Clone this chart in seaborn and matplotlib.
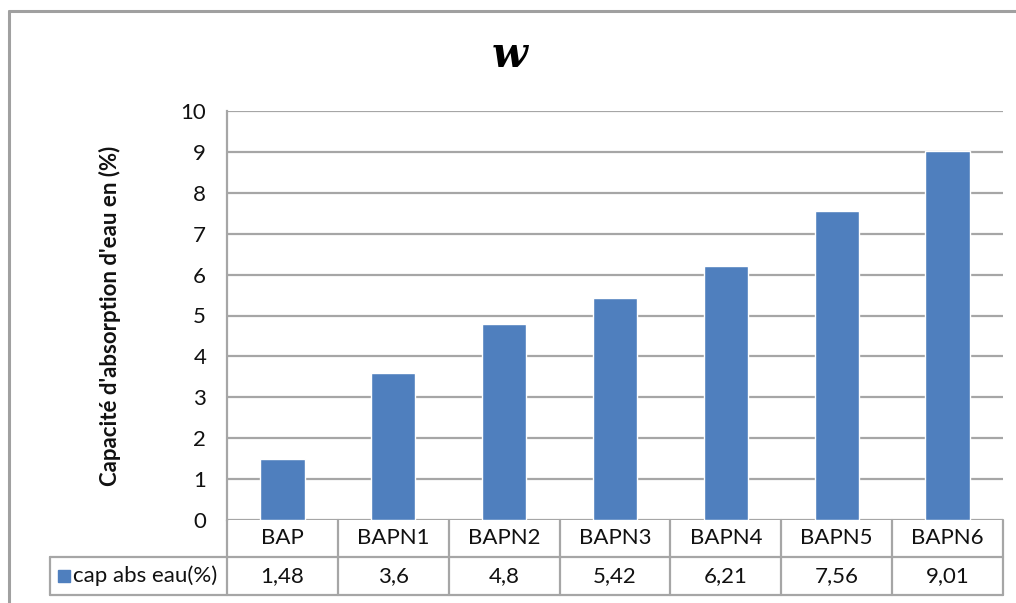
import matplotlib
matplotlib.use("Agg")
import matplotlib.pyplot as plt
import matplotlib.transforms as mtransforms
from matplotlib.lines import Line2D
from matplotlib.patches import Rectangle
import pandas as pd
import seaborn as sns

categories = ["BAP", "BAPN1", "BAPN2", "BAPN3", "BAPN4", "BAPN5", "BAPN6"]
values = [1.48, 3.6, 4.8, 5.42, 6.21, 7.56, 9.01]
value_labels = ["1,48", "3,6", "4,8", "5,42", "6,21", "7,56", "9,01"]
series_name = "cap abs eau(%)"
y_ticks = list(range(0, 11))
title = "w"
y_label = "Capacité d'absorption d'eau en (%)"

BAR_COLOR = "#4F7FBE"
GRID_COLOR = "#A6A6A6"
TEXT_COLOR = "#111111"
FS = 16

sns.set_theme(style="white")
plt.rcParams["font.family"] = ["Lato", "DejaVu Sans"]

W, H = 1016, 603
fig = plt.figure(figsize=(W / 100, H / 100), dpi=100)

# plot area in pixel geometry
x0, x1 = 227, 1003
y_top, y_bot = 111, 520
ax = fig.add_axes([x0 / W, 1 - y_bot / H, (x1 - x0) / W, (y_bot - y_top) / H])

df = pd.DataFrame({"cat": categories, "val": values})
sns.barplot(data=df, x="cat", y="val", color=BAR_COLOR, width=0.4,
            saturation=1, ax=ax, zorder=3)

ax.set_xlim(-0.5, len(categories) - 0.5)
ax.set_ylim(0, 10)
ax.set_yticks(y_ticks)
ax.set_yticklabels([str(t) for t in y_ticks], fontsize=FS, color=TEXT_COLOR)
ax.tick_params(axis="y", length=0, pad=15)
ax.set_xticks([])
ax.set_xlabel("")
ax.set_ylabel(y_label, fontsize=FS, fontweight="bold", color=TEXT_COLOR)
ax.yaxis.set_label_coords(-0.137, 0.5)

for t in y_ticks:
    ax.axhline(t, color=GRID_COLOR, lw=1.6, zorder=1)
for s in ["top", "right", "bottom"]:
    ax.spines[s].set_visible(False)
ax.spines["left"].set_color(GRID_COLOR)
ax.spines["left"].set_linewidth(1.6)

# data table beneath the plot area
trans = mtransforms.blended_transform_factory(ax.transData, ax.transAxes)
ph = (y_bot - y_top)
row1 = -(557 - y_bot) / ph
row2 = -(595 - y_bot) / ph
legend_left = (50 - x0) / (x1 - x0)

def tline(xs, ys, transform):
    ax.add_line(Line2D(xs, ys, transform=transform, color=GRID_COLOR,
                       lw=1.6, clip_on=False, zorder=1))

n = len(categories)
for i in range(n + 1):
    tline([i - 0.5, i - 0.5], [0, row2], trans)
tline([legend_left, 1], [row1, row1], ax.transAxes)
tline([legend_left, 1], [row2, row2], ax.transAxes)
tline([legend_left, legend_left], [row1, row2], ax.transAxes)

for i, (c, v) in enumerate(zip(categories, value_labels)):
    ax.text(i, row1 / 2, c, transform=trans, ha="center", va="center",
            fontsize=FS, color=TEXT_COLOR)
    ax.text(i, (row1 + row2) / 2, v, transform=trans, ha="center", va="center",
            fontsize=FS, color=TEXT_COLOR)

key_w = 12 / (x1 - x0)
key_h = 12 / ph
kx = (58 - x0) / (x1 - x0)
ky = (row1 + row2) / 2 - key_h / 2
ax.add_patch(Rectangle((kx, ky), key_w, key_h, transform=ax.transAxes,
                       color=BAR_COLOR, clip_on=False))
ax.text((73 - x0) / (x1 - x0), (row1 + row2) / 2, series_name,
        transform=ax.transAxes, ha="left", va="center", fontsize=FS,
        color=TEXT_COLOR)

# title
fig.text(510 / W, 1 - 55 / H, title, ha="center", va="center", fontsize=30,
         fontweight="bold", style="italic", family="DejaVu Serif", color="black")

# outer chart frame (left and top edges)
fig.add_artist(Line2D([9 / W, 9 / W], [0, 1 - 11 / H], transform=fig.transFigure,
                      color="#A0A0A0", lw=2.2))
fig.add_artist(Line2D([9 / W, 1], [1 - 11 / H, 1 - 11 / H], transform=fig.transFigure,
                      color="#A0A0A0", lw=2.2))

fig.savefig("out.png", dpi=100)
